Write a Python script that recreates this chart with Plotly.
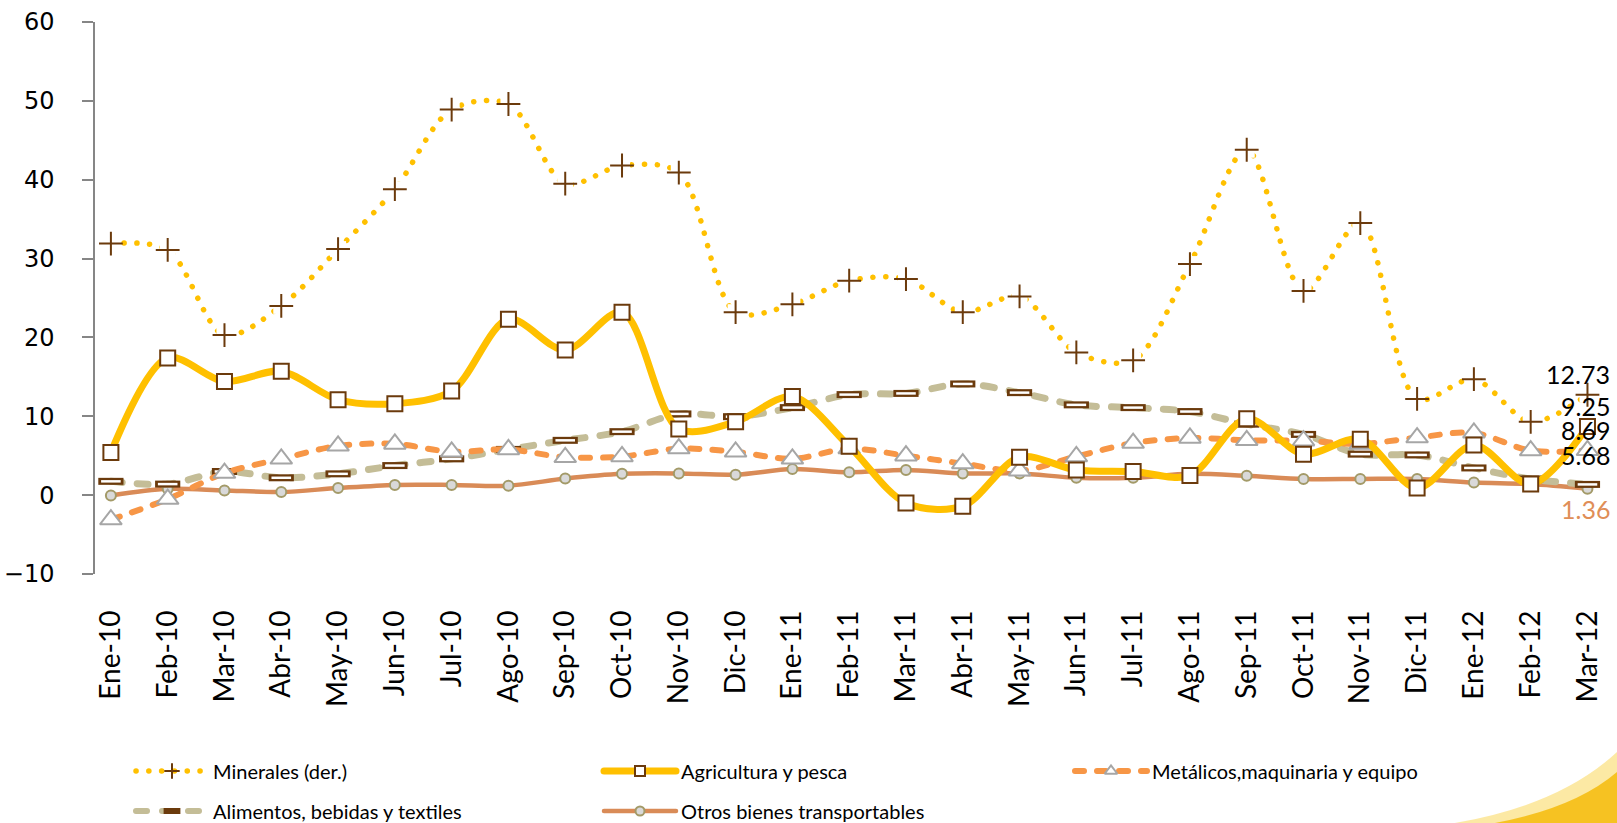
import plotly.graph_objects as go

# Monthly categories
meses = ["Ene-10", "Feb-10", "Mar-10", "Abr-10", "May-10", "Jun-10", "Jul-10", "Ago-10",
         "Sep-10", "Oct-10", "Nov-10", "Dic-10", "Ene-11", "Feb-11", "Mar-11", "Abr-11",
         "May-11", "Jun-11", "Jul-11", "Ago-11", "Sep-11", "Oct-11", "Nov-11", "Dic-11",
         "Ene-12", "Feb-12", "Mar-12"]

minerales = [31.9, 31.1, 20.3, 24.0, 31.2, 38.8, 48.9, 49.6, 39.5, 41.8, 40.9, 23.2, 24.2, 27.2,
             27.4, 23.2, 25.2, 18.1, 17.1, 29.3, 43.8, 25.9, 34.5, 12.2, 14.7, 9.3, 12.73]
agricultura = [5.4, 17.4, 14.4, 15.7, 12.1, 11.6, 13.2, 22.3, 18.4, 23.2, 8.4, 9.3, 12.5, 6.2,
               -1.0, -1.4, 4.8, 3.2, 3.0, 2.5, 9.7, 5.2, 7.1, 0.9, 6.35, 1.4, 8.69]
metalicos = [-3.1, -0.5, 2.8, 4.6, 6.25, 6.5, 5.5, 5.8, 4.8, 4.9, 5.9, 5.5, 4.6, 5.9,
             5.0, 4.0, 3.1, 4.9, 6.6, 7.25, 6.95, 6.9, 6.5, 7.3, 7.9, 5.65, 5.68]
alimentos = [1.75, 1.4, 3.0, 2.2, 2.7, 3.75, 4.6, 5.8, 6.95, 8.05, 10.3, 9.95, 11.1, 12.75,
             12.9, 14.1, 13.0, 11.45, 11.1, 10.6, 9.0, 7.7, 5.2, 5.1, 3.45, 2.05, 1.36]
otros = [-0.05, 0.8, 0.6, 0.4, 0.9, 1.3, 1.3, 1.2, 2.1, 2.7, 2.75, 2.6, 3.3, 2.9,
         3.2, 2.75, 2.75, 2.2, 2.2, 2.7, 2.45, 2.05, 2.05, 2.05, 1.6, 1.4, 0.8]

# Values printed at the last month
etiquetas_fin = [12.73, 9.25, 8.69, 5.68, 1.36]

W, H = 1617, 823
BROWN = "#6B3A0C"
GOLD = "#FFC000"
ORANGE = "#F79646"
TAN = "#C4BD97"
OTROS_C = "#D98B57"

# Per-series styling: line, primary marker, optional overlay marker
series = [
    dict(name="Otros bienes transportables", y=otros,
         line=dict(color=OTROS_C, width=4.5),
         marker=dict(symbol="circle", size=10, color="#D9D9D9", line=dict(color="#A39A68", width=2)),
         leg_marker=dict(symbol="circle", size=9, color="#D9D9D9", line=dict(color="#A39A68", width=2)),
         overlay=None),
    dict(name="Alimentos, bebidas y textiles", y=alimentos,
         line=dict(color=TAN, width=7, dash="11px,15px"),
         marker=dict(symbol="line-ew", size=18, color=BROWN, line=dict(color=BROWN, width=7)),
         leg_marker=dict(symbol="line-ew", size=12, color=BROWN, line=dict(color=BROWN, width=6)),
         overlay=dict(symbol="line-ew", size=14, color="white", line=dict(color="white", width=2.5))),
    dict(name="Metálicos,maquinaria y equipo", y=metalicos,
         line=dict(color=ORANGE, width=6, dash="9px,13px"),
         marker=dict(symbol="triangle-up", size=19, color="white", line=dict(color="#A6A6A6", width=2)),
         leg_marker=dict(symbol="triangle-up", size=11, color="white", line=dict(color="#A6A6A6", width=2)),
         overlay=None),
    dict(name="Agricultura y pesca", y=agricultura,
         line=dict(color=GOLD, width=7),
         marker=dict(symbol="square", size=15, color="white", line=dict(color=BROWN, width=2)),
         leg_marker=dict(symbol="square", size=10, color="white", line=dict(color=BROWN, width=2)),
         overlay=None),
    dict(name="Minerales (der.)", y=minerales,
         line=dict(color=GOLD, width=5.5, dash="0.1px,12.7px"),
         marker=dict(symbol="square", size=16, color="white", line=dict(width=0)),
         leg_marker=dict(symbol="cross-thin", size=11, color=BROWN, line=dict(color=BROWN, width=2)),
         overlay=dict(symbol="cross-thin", size=17, color=BROWN, line=dict(color=BROWN, width=2))),
]

fig = go.Figure()

for s in series:
    fig.add_trace(go.Scatter(
        x=meses, y=s["y"], name=s["name"], mode="lines+markers", showlegend=False,
        line=dict(shape="spline", smoothing=0.9, **s["line"]), marker=s["marker"]))
    if s["overlay"] is not None:
        fig.add_trace(go.Scatter(
            x=meses, y=s["y"], mode="markers", showlegend=False, hoverinfo="skip",
            marker=s["overlay"]))

# End-of-series value labels
last = meses[-1]
label_specs = [
    (etiquetas_fin[0], 21, "black"),
    (etiquetas_fin[1], 16, "black"),
    (etiquetas_fin[2], -3, "black"),
    (etiquetas_fin[3], -5, "black"),
    (etiquetas_fin[4], -25, "#E08E57"),
]
for val, dy, col in label_specs:
    fig.add_annotation(x=last, y=val, text=f"{val:.2f}", showarrow=False,
                       xanchor="right", yanchor="middle", xshift=25, yshift=dy,
                       font=dict(family="Lato", size=25, color=col))

# Legend drawn on a pixel-scaled overlay axis under the plot
legend_slots = {  # name -> (sample left x, row centre y) in pixels
    "Minerales (der.)": (136, 771),
    "Agricultura y pesca": (604, 771),
    "Metálicos,maquinaria y equipo": (1075, 771),
    "Alimentos, bebidas y textiles": (136, 811),
    "Otros bienes transportables": (604, 811),
}
SAMPLE_W = 72
for s in series:
    x0, yc = legend_slots[s["name"]]
    leg_line = dict(s["line"])
    if "dash" in leg_line:
        leg_line["width"] = min(leg_line["width"], 6)
    fig.add_trace(go.Scatter(
        x=[x0, x0 + SAMPLE_W], y=[yc, yc], mode="lines", showlegend=False, hoverinfo="skip",
        line=leg_line, xaxis="x2", yaxis="y2"))
    fig.add_trace(go.Scatter(
        x=[x0 + SAMPLE_W / 2], y=[yc], mode="markers", showlegend=False, hoverinfo="skip",
        marker=s["leg_marker"], xaxis="x2", yaxis="y2"))
    fig.add_annotation(x=x0 + SAMPLE_W + 3, y=yc, xref="x2", yref="y2", text=s["name"],
                       showarrow=False, xanchor="left", yanchor="middle",
                       font=dict(family="Lato", size=20, color="black"))

# Yellow swoosh in the lower right corner
def px(x, y):
    return f"{x / W:.5f},{1 - y / H:.5f}"

fig.add_shape(type="path", xref="paper", yref="paper", layer="below", line=dict(width=0),
              fillcolor="rgba(250,215,90,0.55)",
              path=f"M{px(1455, 823)} Q{px(1560, 805)} {px(1617, 752)} L{px(1617, 823)} Z")
fig.add_shape(type="path", xref="paper", yref="paper", layer="below", line=dict(width=0),
              fillcolor="rgba(245,190,20,0.9)",
              path=f"M{px(1495, 823)} Q{px(1575, 808)} {px(1617, 772)} L{px(1617, 823)} Z")

y_top, y_bot = 22, 574
fig.update_layout(
    width=W, height=H,
    margin=dict(l=0, r=0, t=0, b=0, autoexpand=False),
    paper_bgcolor="white", plot_bgcolor="rgba(0,0,0,0)",
    showlegend=False,
    xaxis=dict(domain=[95 / W, 1], range=[-0.28, 26.52], showline=False, showgrid=False,
               zeroline=False, ticks="", tickangle=-90, ticklabelstandoff=30, automargin=False,
               tickfont=dict(family="Lato", size=28, color="black")),
    yaxis=dict(domain=[1 - y_bot / H, 1 - y_top / H], range=[-10, 60], dtick=10,
               showline=True, linecolor="#868686", linewidth=1.5, automargin=False,
               ticks="outside", ticklen=11, tickcolor="#868686", tickwidth=1.5,
               showgrid=False, zeroline=False, ticklabelstandoff=23,
               tickfont=dict(family="DejaVu Sans", size=24, color="black")),
    xaxis2=dict(domain=[0, 1], range=[0, W], visible=False, anchor="y2", fixedrange=True,
                automargin=False),
    yaxis2=dict(domain=[0, 0.1], range=[H, H - 0.1 * H], visible=False, anchor="x2",
                fixedrange=True, automargin=False),
)

round_caps = """
var gd = document.getElementById('{plot_id}');
function roundCaps() {
  gd.querySelectorAll('path.js-line').forEach(function (p) {
    p.style.strokeLinecap = 'round';
  });
}
roundCaps();
if (gd.on) { gd.on('plotly_afterplot', roundCaps); }
"""

fig.write_html("out.html", post_script=round_caps)
